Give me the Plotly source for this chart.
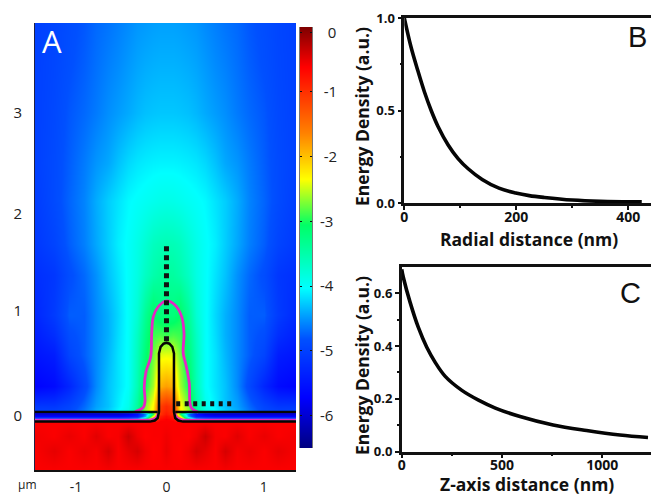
import plotly.graph_objects as go

W, H = 651, 495

# Panel A field (log10 energy density), right half; left half mirrors it
field_x = [0, .07, .14, .22, .3, .4, .5, .6, .72, .85, 1.0, 1.15, 1.36]
field_y = [3.89, 3.5, 3.0, 2.5, 2.13, 1.7, 1.4, 1.0, .8, .6, .3, .1, .055, .02, 0, -.02, -.035, -.05, -.062, -.2, -.35, -.535]
field_z = [
 [-4.45,-4.45,-4.46,-4.48,-4.5,-4.55,-4.6,-4.65,-4.7,-4.78,-4.85,-4.93,-5.0],
 [-4.38,-4.38,-4.39,-4.41,-4.44,-4.49,-4.55,-4.6,-4.67,-4.75,-4.83,-4.92,-5.0],
 [-4.28,-4.28,-4.29,-4.31,-4.35,-4.41,-4.47,-4.53,-4.62,-4.7,-4.78,-4.9,-5.0],
 [-4.08,-4.08,-4.09,-4.11,-4.14,-4.2,-4.3,-4.42,-4.5,-4.62,-4.75,-4.88,-5.0],
 [-3.88,-3.89,-3.92,-3.96,-4.0,-4.05,-4.15,-4.25,-4.4,-4.58,-4.72,-4.88,-5.05],
 [-3.55,-3.57,-3.62,-3.75,-3.88,-4.0,-4.1,-4.25,-4.42,-4.6,-4.75,-4.95,-5.1],
 [-3.4,-3.42,-3.5,-3.65,-3.85,-4.0,-4.15,-4.3,-4.52,-4.7,-4.85,-5.1,-5.2],
 [-3.2,-3.18,-3.05,-3.35,-3.75,-4.0,-4.2,-4.38,-4.55,-4.75,-4.75,-5.05,-5.3],
 [-2.9,-2.85,-2.9,-3.25,-3.65,-4.0,-4.18,-4.38,-4.55,-4.75,-4.85,-5.2,-5.4],
 [-2.4,-2.42,-2.75,-3.15,-3.6,-4.0,-4.15,-4.35,-4.55,-4.75,-4.95,-5.4,-5.5],
 [-1.8,-1.9,-2.6,-3.0,-3.55,-4.0,-4.15,-4.3,-4.55,-4.9,-5.3,-5.6,-5.7],
 [-.95,-1.1,-2.3,-2.7,-3.4,-3.9,-4.1,-4.3,-4.45,-4.7,-4.95,-5.1,-5.1],
 [-.9,-1.05,-2.25,-2.65,-3.35,-3.85,-4.05,-4.25,-4.4,-4.65,-4.9,-5.0,-5.0],
 [-.8,-1.0,-3.0,-4.6,-5.6,-5.9,-6.0,-6.0,-6.0,-6.0,-6.0,-6.0,-6.0],
 [-.7,-.85,-2.4,-4.4,-5.4,-5.6,-5.7,-5.7,-5.7,-5.7,-5.7,-5.7,-5.7],
 [-.65,-.75,-1.8,-3.6,-4.6,-4.8,-4.9,-4.9,-4.9,-4.9,-4.9,-4.9,-4.9],
 [-.6,-.7,-1.2,-3.0,-3.8,-4.0,-4.0,-4.0,-4.0,-4.0,-4.0,-4.0,-4.0],
 [-.6,-.6,-.9,-2.0,-2.5,-2.5,-2.5,-2.5,-2.5,-2.5,-2.5,-2.5,-2.5],
 [-.6,-.6,-.6,-.6,-.6,-.6,-.6,-.6,-.6,-.6,-.6,-.6,-.6],
 [-.55,-.6,-.6,-.62,-.55,-.38,-.58,-.6,-.48,-.6,-.52,-.6,-.55],
 [-.52,-.6,-.62,-.55,-.42,-.5,-.6,-.42,-.58,-.52,-.6,-.5,-.6],
 [-.6,-.6,-.6,-.6,-.6,-.6,-.6,-.58,-.6,-.6,-.6,-.6,-.6],
]
colour_stops = [[0, "#00007f"], [.12, "#0000ff"], [.26, "#0050ff"], [.38, "#00ffff"],
                [.53, "#00ff66"], [.64, "#ffff00"], [.75, "#ff8000"], [.905, "#ff0000"], [1, "#7f0000"]]
scale_levels = [-6.5, -6, -5.5, -5.25, -5, -4.75, -4.5, -4.25, -4, -3.5, -3, -2.5, -2, -1.5, -1, -.5, 0]

# Panel A overlays
stem_x = [-1.36, -.17, -.12, -.09, -.077, -.077, -.06, -.03, 0, .03, .06, .077, .077, .09, .12, .17, 1.36]
stem_y = [-.056, -.056, -.045, -.02, .04, .62, .685, .715, .723, .715, .685, .62, .04, -.02, -.045, -.056, -.056]
floor_left_x, floor_right_x, floor_y = [-1.36, -.09], [.09, 1.36], [.04, .04]
contour_x = [-.323, -.238, -.221, -.228, -.21, -.162, -.152, -.135, -.084, 0, .087, .156, .18, .172, .2, .234, .241, .259, .326]
contour_y = [.043, .086, .142, .29, .439, .587, .819, .983, 1.082, 1.139, 1.099, .983, .819, .621, .505, .324, .126, .076, .037]
contour_low_lx = [-1.36, -.17, -.11, -.085]
contour_low_rx = [.085, .11, .17, 1.36]
contour_low_ly = [-.037, -.037, -.02, .03]
contour_low_ry = [.03, -.02, -.037, -.037]
probe_v_x, probe_v_y = [0, 0], [.74, 1.70]
probe_h_x, probe_h_y = [.1, .68], [.12, .12]

# Panel B
radial_nm = [0, 12, 24, 36, 48, 60, 78, 96, 114, 139, 169, 199, 223, 250, 300, 350, 424]
radial_e = [1.0, .843, .717, .6, .5, .415, .315, .24, .185, .127, .08, .054, .04, .03, .016, .009, .006]
# Panel C
zaxis_nm = [0, 8, 42, 83, 125, 167, 217, 300, 383, 467, 590, 755, 922, 1088, 1228]
zaxis_e = [.69, .66, .565, .47, .395, .338, .285, .232, .195, .165, .133, .101, .08, .063, .054]

x_tick_pos, x_tick_text = [-.93, 0, 1.0], ["-1", "0", "1"]
y_tick_pos, y_tick_text = [0, 1.04, 2.0, 3.0], ["0", "1", "2", "3"]
cbar_tick_pos = [-.09, -1, -2, -3, -4, -5, -6]
cbar_tick_text = ["\u00a0\u00a0\u00a00", "\u00a0\u00a0-1", "\u00a0\u00a0-2", "\u00a0-3", "\u00a0-4", "\u00a0-5", "\u00a0-6"]

LIGHT = "Open Sans"
BOLD = "Open Sans"
PINK = "#e428c4"

full_x = [-v for v in field_x[:0:-1]] + field_x
full_z = [[*row[:0:-1], *row] for row in field_z]

fig = go.Figure()
fig.add_trace(go.Heatmap(
    x=full_x, y=field_y, z=full_z, zmin=-6.5, zmax=0, zsmooth="best", colorscale=colour_stops,
    hoverinfo="skip", showscale=False))
fig.add_trace(go.Heatmap(
    x=[0, 1], y=scale_levels, z=[[v, v] for v in scale_levels], zmin=-6.5, zmax=0, zsmooth="best",
    colorscale=colour_stops, hoverinfo="skip", showscale=False, xaxis="x4", yaxis="y4"))

def line(x, y, colour, width, axes=("x", "y"), dash=None, shape="linear"):
    fig.add_trace(go.Scatter(x=x, y=y, mode="lines", xaxis=axes[0], yaxis=axes[1], hoverinfo="skip",
                             showlegend=False, line=dict(color=colour, width=width, dash=dash, shape=shape)))

line(contour_x, contour_y, PINK, 2.8, shape="spline")
line(contour_low_lx, contour_low_ly, PINK, 2)
line(contour_low_rx, contour_low_ry, PINK, 2)
line(stem_x, stem_y, "#050505", 2.5)
line(floor_left_x, floor_y, "#050505", 2.5)
line(floor_right_x, floor_y, "#050505", 2.5)
line(probe_v_x, probe_v_y, "#111", 5, dash="5px,4px")
line(probe_h_x, probe_h_y, "#111", 5, dash="4px,4.5px")
line(radial_nm, radial_e, "#050505", 3.6, axes=("x2", "y2"), shape="spline")
line(zaxis_nm, zaxis_e, "#050505", 3.6, axes=("x3", "y3"), shape="spline")

def dom_x(a, b): return [a/W, b/W]
def dom_y(top, bottom): return [1-bottom/H, 1-top/H]

tfont = dict(family=LIGHT, size=15, color="#222")
tfont_x = dict(family=LIGHT, size=14, color="#222")
bold_x = dict(family=BOLD, size=14, color="#111", weight="bold")
bold_y = dict(family=BOLD, size=13, color="#111", weight="bold")
title_font = dict(family=BOLD, size=17.5, color="#111", weight="bold")

def label(text, px, py, font, angle=0):
    return dict(text=text, xref="paper", yref="paper", x=px/W, y=1-py/H, xanchor="center", yanchor="middle",
                showarrow=False, font=font, textangle=angle)

fig.update_layout(
    width=W, height=H, margin=dict(l=0, r=0, t=0, b=0), paper_bgcolor="white", plot_bgcolor="white", showlegend=False,
    xaxis=dict(automargin=False, domain=dom_x(35, 296), range=[-1.35, 1.33], tickmode="array", tickvals=x_tick_pos, ticktext=x_tick_text,
               ticks="outside", ticklen=3, tickcolor="rgba(0,0,0,0)", tickfont=tfont_x, showgrid=False, zeroline=False,
               showline=True, linecolor="#111", linewidth=2),
    yaxis=dict(automargin=False, domain=dom_y(23, 470), range=[-.535, 3.89], tickmode="array", tickvals=y_tick_pos, ticktext=y_tick_text,
               ticks="outside", ticklen=9, tickcolor="rgba(0,0,0,0)", tickfont=tfont, showgrid=False, zeroline=False,
               showline=True, linecolor="#224", linewidth=1),
    xaxis4=dict(automargin=False, domain=dom_x(300, 312), range=[0, 1], anchor="y4", showticklabels=False, ticks="", showgrid=False, zeroline=False),
    yaxis4=dict(automargin=False, domain=dom_y(27, 448), range=[-6.5, 0], anchor="x4", side="right", tickmode="array",
                tickvals=cbar_tick_pos, ticktext=cbar_tick_text, ticks="inside", ticklen=2, tickwidth=1, tickcolor="#111",
                tickfont=dict(family=LIGHT, size=15, color="#222"), showgrid=False, zeroline=False,
                showline=True, linecolor="#777", linewidth=1, mirror="allticks"),
    xaxis2=dict(automargin=False, domain=dom_x(404.3, 651), range=[0, 440.5], anchor="y2", tickmode="array", tickvals=[0, 200, 400],
                ticks="outside", ticklen=4, tickwidth=2, tickcolor="#111", tickfont=bold_x, ticklabelstandoff=-5, showgrid=False, zeroline=False,
                showline=True, linecolor="#111", linewidth=2.5, mirror=True,
                minor=dict(tickvals=[100, 300], ticks="outside", ticklen=2, tickwidth=2, tickcolor="#111")),
    yaxis2=dict(automargin=False, domain=dom_y(18, 203), range=[0, 1], anchor="x2", tickmode="array", tickvals=[0, .5, 1],
                ticktext=["0.0", "0.5", "1.0"], ticks="outside", ticklen=4, tickwidth=2, tickcolor="#111", tickfont=bold_y,
                showgrid=False, zeroline=False, showline=True, linecolor="#111", linewidth=2.5,
                minor=dict(tickvals=[.25, .75], ticks="outside", ticklen=2, tickwidth=2, tickcolor="#111")),
    xaxis3=dict(automargin=False, domain=dom_x(401.7, 651), range=[0, 1243], anchor="y3", tickmode="array", tickvals=[0, 500, 1000],
                ticks="outside", ticklen=4, tickwidth=2, tickcolor="#111", tickfont=bold_x, ticklabelstandoff=-5, showgrid=False, zeroline=False,
                showline=True, linecolor="#111", linewidth=2.5, mirror=True,
                minor=dict(tickvals=[250, 750], ticks="outside", ticklen=2, tickwidth=2, tickcolor="#111")),
    yaxis3=dict(automargin=False, domain=dom_y(266.7, 451.7), range=[0, .70], anchor="x3", tickmode="array", tickvals=[0, .2, .4, .6],
                ticktext=["0.0", "0.2", "0.4", "0.6"], ticks="outside", ticklen=4, tickwidth=2, tickcolor="#111", tickfont=bold_y,
                showgrid=False, zeroline=False, showline=True, linecolor="#111", linewidth=2.5,
                minor=dict(tickvals=[.1, .3, .5], ticks="outside", ticklen=2, tickwidth=2, tickcolor="#111")),
    annotations=[
        label("A", 52, 41, dict(family=LIGHT, size=31, color="white")),
        label("B", 637, 37, dict(family="Liberation Sans", size=29, color="#111")),
        label("C", 630, 293, dict(family="Liberation Sans", size=29, color="#111")),
        label("\u03bcm", 27, 484, dict(family=LIGHT, size=12, color="#222")),
        label("Radial distance (nm)", 529, 239, title_font),
        label("Z-axis distance (nm)", 527, 484, title_font),
        label("Energy Density (a.u.)", 362, 117, title_font, -90),
        label("Energy Density (a.u.)", 362, 366, title_font, -90),
    ],
)
fig.write_html("out.html", config=dict(displayModeBar=False), post_script="document.body.style.margin='0';")
